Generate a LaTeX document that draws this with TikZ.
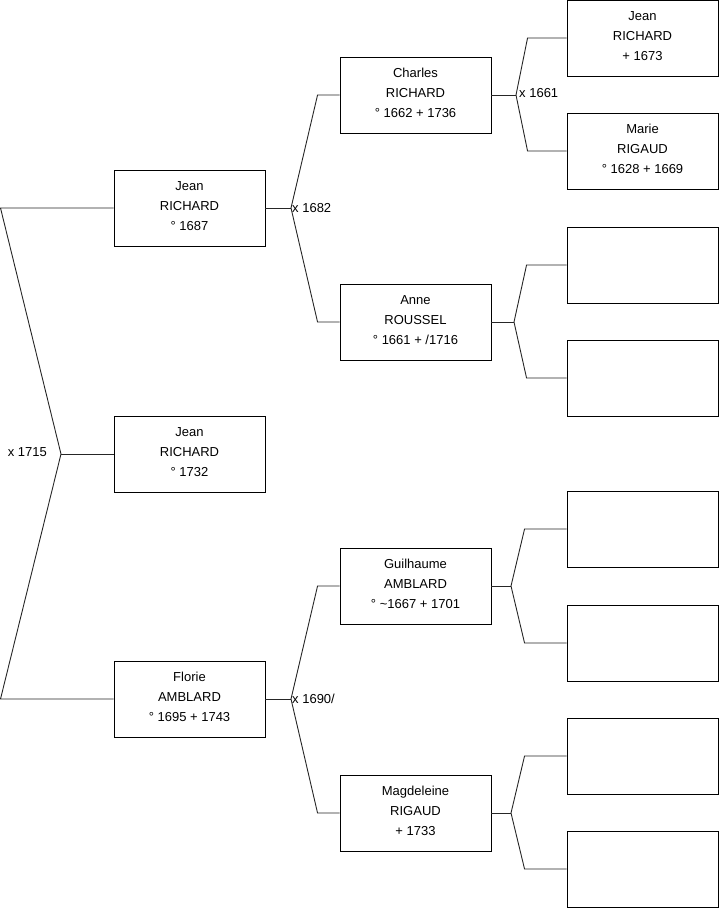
\documentclass[tikz,border=0pt]{standalone}
\usepackage{fontspec}
\setmainfont{Liberation Sans}
\usepackage{tikz}
\usetikzlibrary{positioning}

\begin{document}
\begin{tikzpicture}[
    x=1pt,y=-1pt,
    font=\fontsize{13}{20}\selectfont,
    person/.style={draw,line width=0.9pt,align=center,minimum width=151pt,minimum height=76pt,inner sep=0pt,text depth=4pt},
    link/.style={line width=0.9pt,draw=black!85},
    wed/.style={inner sep=1pt}
  ]
    \useasboundingbox (0,0) rectangle (719,908);
    % generation 1
    \node[person] (father) at (189.5,208) {Jean\\RICHARD\\° 1687};
    \node[person] (child) at (189.5,454) {Jean\\RICHARD\\° 1732};
    \node[person] (mother) at (189.5,699) {Florie\\AMBLARD\\° 1695 + 1743};
    % generation 2
    \node[person] (ff) at (415.5,95) {Charles\\RICHARD\\° 1662 + 1736};
    \node[person] (fm) at (415.5,322) {Anne\\ROUSSEL\\° 1661 + /1716};
    \node[person] (mf) at (415.5,586) {Guilhaume\\AMBLARD\\° \char`\~1667 + 1701};
    \node[person] (mm) at (415.5,813) {Magdeleine\\RIGAUD\\+ 1733};
    % generation 3
    \node[person] (fff) at (642.5,38) {Jean\\RICHARD\\+ 1673};
    \node[person] (ffm) at (642.5,151) {Marie\\RIGAUD\\° 1628 + 1669};
    \node[person] (fmf) at (642.5,265) {};
    \node[person] (fmm) at (642.5,378) {};
    \node[person] (mff) at (642.5,529) {};
    \node[person] (mfm) at (642.5,643) {};
    \node[person] (mmf) at (642.5,756) {};
    \node[person] (mmm) at (642.5,869) {};
    % joints
    \coordinate (top) at (0.5,208);
    \coordinate (bot) at (0.5,699);
    \coordinate (w0) at (61,454);
    \coordinate (w1) at (291,208);
    \coordinate (w2) at (291,699);
    \coordinate (w3) at (516,95);
    \coordinate (w4) at (514,322);
    \coordinate (w5) at (511,586);
    \coordinate (w6) at (511,813);
    \draw[link] (father.west) -- (top) -- (w0) -- (bot) -- (mother.west);
    \draw[link] (w0) -- (child.west);
    \draw[link] (ff.west) -- ([xshift=-22pt]ff.west) -- (w1) -- ([xshift=-22pt]fm.west) -- (fm.west);
    \draw[link] (father.east) -- (w1);
    \draw[link] (mf.west) -- ([xshift=-22pt]mf.west) -- (w2) -- ([xshift=-22pt]mm.west) -- (mm.west);
    \draw[link] (mother.east) -- (w2);
    \draw[link] (fff.west) -- ([xshift=-39pt]fff.west) -- (w3) -- ([xshift=-39pt]ffm.west) -- (ffm.west);
    \draw[link] (ff.east) -- (w3);
    \draw[link] (fmf.west) -- ([xshift=-40pt]fmf.west) -- (w4) -- ([xshift=-40pt]fmm.west) -- (fmm.west);
    \draw[link] (fm.east) -- (w4);
    \draw[link] (mff.west) -- ([xshift=-42pt]mff.west) -- (w5) -- ([xshift=-42pt]mfm.west) -- (mfm.west);
    \draw[link] (mf.east) -- (w5);
    \draw[link] (mmf.west) -- ([xshift=-42pt]mmf.west) -- (w6) -- ([xshift=-42pt]mmm.west) -- (mmm.west);
    \draw[link] (mm.east) -- (w6);
    % marriages
    \node[wed,left=13pt of w0,yshift=2pt] (x0) {x 1715};
    \node[wed,right=0pt of w1] (x1) {x 1682};
    \node[wed,right=0pt of w2] (x2) {x 1690/};
    \node[wed,right=2pt of w3,yshift=2pt] (x3) {x 1661};
  \end{tikzpicture}
\end{document}
